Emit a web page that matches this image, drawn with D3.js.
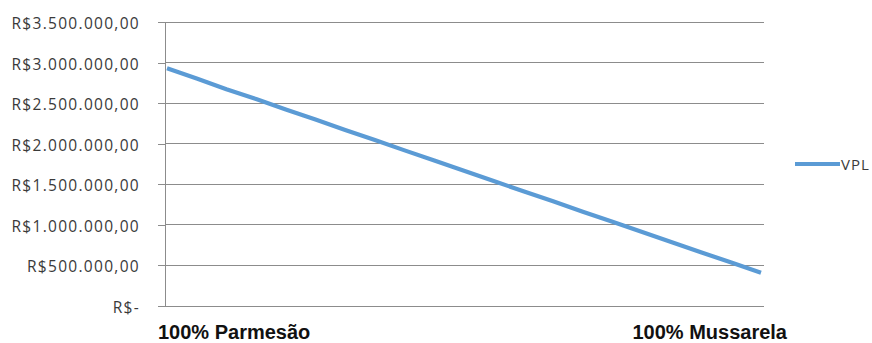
<!DOCTYPE html>
<html>
<head>
<meta charset="utf-8">
<script src="https://cdn.jsdelivr.net/npm/d3@7"></script>
<style>
  html, body { margin: 0; padding: 0; background: #fff; }
  svg { display: block; }
  .ylab text { font-family: "Open Sans", sans-serif; font-size: 15.5px; fill: #3a3a3a; letter-spacing: 1.3px; }
  .xlab { font-family: "Liberation Sans", Arial, sans-serif; font-weight: bold; font-size: 20px; fill: #111; }
  .legend text { font-family: "Open Sans", sans-serif; font-size: 15px; fill: #3a3a3a; letter-spacing: 1px; }
</style>
</head>
<body>
<svg id="chart" width="872" height="343"></svg>
<script>
// Blend share of mussarela (%) from pure parmesão to pure mussarela
const blendShares = [0, 5, 10, 15, 20, 25, 30, 35, 40, 45, 50, 55, 60, 65, 70, 75, 80, 85, 90, 95, 100];
// Net present value (VPL) for each blend, R$
const vplValues = [2930000, 2805000, 2672000, 2550000, 2422000, 2298000, 2170000, 2045000, 1918000, 1792000,
                   1668000, 1540000, 1415000, 1290000, 1162000, 1038000, 912000, 786000, 660000, 535000, 410000];
const yTicks = [0, 500000, 1000000, 1500000, 2000000, 2500000, 3000000, 3500000];
const endLabels = ["100% Parmesão", "100% Mussarela"];
const seriesName = "VPL";

const svg = d3.select("#chart");
const plot = { left: 165, right: 764, top: 22, bottom: 306 };

const x = d3.scalePoint().domain(blendShares).range([plot.left + 2, plot.right - 3]);
const y = d3.scaleLinear().domain([0, 3500000]).range([plot.bottom, plot.top]);

const brl = d3.formatLocale({ decimal: ",", thousands: ".", grouping: [3], currency: ["R$", ""] });
const money = brl.format("$,.2f");
const fmt = v => v === 0 ? "R$-" : money(v);

// Horizontal gridlines
svg.append("g")
  .selectAll("line")
  .data(yTicks.filter(t => t > 0))
  .join("line")
  .attr("x1", plot.left).attr("x2", plot.right)
  .attr("y1", d => y(d)).attr("y2", d => y(d))
  .attr("stroke", "#8c8c8c").attr("stroke-width", 1)
  .attr("shape-rendering", "crispEdges");

// Y axis with currency labels
const yAxis = svg.append("g")
  .attr("class", "ylab")
  .attr("transform", `translate(${plot.left},0)`)
  .call(d3.axisLeft(y).tickValues(yTicks).tickFormat(fmt).tickSizeInner(7).tickSizeOuter(0).tickPadding(18));
yAxis.select(".domain").attr("stroke", "#8c8c8c").attr("shape-rendering", "crispEdges");
yAxis.selectAll(".tick line").attr("stroke", "#8c8c8c").attr("shape-rendering", "crispEdges");
yAxis.selectAll("text").attr("font-family", null).attr("font-size", null).attr("fill", null).attr("dy", "0.42em");

// Baseline (category axis)
svg.append("line")
  .attr("x1", plot.left - 7).attr("x2", plot.right)
  .attr("y1", y(0)).attr("y2", y(0))
  .attr("stroke", "#8c8c8c").attr("stroke-width", 1)
  .attr("shape-rendering", "crispEdges");

// Category labels at the two ends
svg.append("text").attr("class", "xlab")
  .attr("x", x(blendShares[0]) - 9).attr("y", y(0) + 33)
  .attr("text-anchor", "start").text(endLabels[0]);
svg.append("text").attr("class", "xlab")
  .attr("x", x(blendShares[blendShares.length - 1]) + 26).attr("y", y(0) + 33)
  .attr("text-anchor", "end").text(endLabels[1]);

// VPL line
const line = d3.line().x((d, i) => x(blendShares[i])).y(d => y(d));
svg.append("path")
  .datum(vplValues)
  .attr("d", line)
  .attr("fill", "none")
  .attr("stroke", "#5b9bd5")
  .attr("stroke-width", 4.2)
  .attr("stroke-linejoin", "round");

// Legend
const legend = svg.append("g").attr("class", "legend").attr("transform", "translate(795,164)");
legend.append("line").attr("x1", 0).attr("x2", 45).attr("y1", 0).attr("y2", 0)
  .attr("stroke", "#5b9bd5").attr("stroke-width", 4);
legend.append("text").attr("x", 46).attr("y", 5.5).text(seriesName);
</script>
</body>
</html>
